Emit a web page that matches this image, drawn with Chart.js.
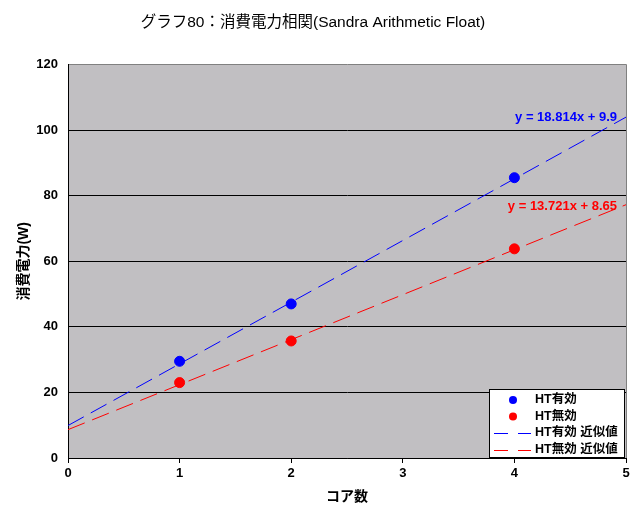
<!DOCTYPE html>
<html>
<head>
<meta charset="utf-8">
<script src="https://cdn.jsdelivr.net/npm/chart.js@4"></script>
<style>
  html, body { margin: 0; padding: 0; background: #fff; }
  #wrap { width: 633px; height: 518px; }
</style>
</head>
<body>
<div id="wrap"><canvas id="powerChart" width="633" height="518"></canvas></div>
<script>
// コア数
const cores = [1, 2, 4];
// 消費電力(W)
const htOn = [29.5, 47, 85.5];
const htOff = [23, 35.7, 63.8];
// 近似値 (両端 x=0, x=5)
const trendX = [0, 5];
const htOnTrend = [9.9, 103.97];
const htOffTrend = [8.65, 77.26];
const htOnEq = 'y = 18.814x + 9.9';
const htOffEq = 'y = 13.721x + 8.65';
const yTicks = [0, 20, 40, 60, 80, 100, 120];

const FONT = "'Liberation Sans', 'Noto Sans CJK JP', sans-serif";
const BLUE = '#0000FF';
const RED = '#FF0000';

function toPoints(xs, ys) {
  return xs.map((x, i) => ({ x: x, y: ys[i] }));
}

// プロットエリア背景と枠
const plotBg = {
  id: 'plotBg',
  beforeDraw(chart) {
    const { ctx, chartArea: a } = chart;
    ctx.save();
    ctx.fillStyle = '#C1BFC2';
    ctx.fillRect(a.left, a.top, a.right - a.left, a.bottom - a.top);
    ctx.strokeStyle = '#808080';
    ctx.lineWidth = 1;
    ctx.beginPath();
    ctx.moveTo(a.left, Math.round(a.top) - 0.5);
    ctx.lineTo(Math.round(a.right) + 0.5, Math.round(a.top) - 0.5);
    ctx.lineTo(Math.round(a.right) + 0.5, a.bottom);
    ctx.stroke();
    ctx.restore();
  }
};

// 近似式ラベルと凡例
const extras = {
  id: 'extras',
  afterDraw(chart) {
    const { ctx } = chart;
    const xs = chart.scales.x, ys = chart.scales.y;
    ctx.save();
    ctx.setLineDash([]);
    ctx.font = 'bold 13px ' + FONT;
    ctx.textAlign = 'right';
    ctx.textBaseline = 'middle';
    ctx.fillStyle = BLUE;
    ctx.fillText(htOnEq, xs.getPixelForValue(5) - 9, ys.getPixelForValue(103.8));
    ctx.fillStyle = RED;
    ctx.fillText(htOffEq, xs.getPixelForValue(5) - 9, ys.getPixelForValue(76.6));

    // legend box
    const bx = 489.5, by = 389.5, bw = 135, bh = 68;
    ctx.fillStyle = '#fff';
    ctx.fillRect(bx, by, bw, bh);
    ctx.strokeStyle = '#000';
    ctx.lineWidth = 1;
    ctx.strokeRect(bx, by, bw, bh);

    const items = chart.data.datasets;
    ctx.font = 'bold 12.5px ' + FONT;
    ctx.textAlign = 'left';
    items.forEach((ds, i) => {
      const y = 400 + i * 16.5;
      if (ds.showLine) {
        ctx.strokeStyle = ds.borderColor;
        ctx.beginPath();
        ctx.moveTo(494, Math.round(y) + 0.5);
        ctx.lineTo(508, Math.round(y) + 0.5);
        ctx.moveTo(518, Math.round(y) + 0.5);
        ctx.lineTo(531, Math.round(y) + 0.5);
        ctx.stroke();
      } else {
        ctx.fillStyle = ds.backgroundColor;
        ctx.beginPath();
        ctx.arc(513, y, 4, 0, Math.PI * 2);
        ctx.fill();
      }
      ctx.fillStyle = '#000';
      ctx.fillText(ds.label, 535, y);
    });
    ctx.restore();
  }
};

const ctx = document.getElementById('powerChart').getContext('2d');
const powerChart = new Chart(ctx, {
  type: 'scatter',
  data: {
    datasets: [
      {
        label: 'HT有効',
        data: toPoints(cores, htOn),
        backgroundColor: BLUE,
        borderColor: BLUE,
        pointRadius: 5,
        pointHoverRadius: 5,
        showLine: false,
      },
      {
        label: 'HT無効',
        data: toPoints(cores, htOff),
        backgroundColor: RED,
        borderColor: RED,
        pointRadius: 5,
        pointHoverRadius: 5,
        showLine: false,
      },
      {
        label: 'HT有効 近似値',
        data: toPoints(trendX, htOnTrend),
        borderColor: BLUE,
        backgroundColor: BLUE,
        borderWidth: 1,
        borderDash: [18, 8],
        pointRadius: 0,
        showLine: true,
      },
      {
        label: 'HT無効 近似値',
        data: toPoints(trendX, htOffTrend),
        borderColor: RED,
        backgroundColor: RED,
        borderWidth: 1,
        borderDash: [18, 8],
        pointRadius: 0,
        showLine: true,
      },
    ],
  },
  options: {
    responsive: false,
    animation: false,
    layout: { padding: { left: 0, right: 7, top: 0, bottom: 0 } },
    scales: {
      x: {
        type: 'linear',
        min: 0,
        max: 5,
        afterFit: (s) => { s.height = 60; },
        ticks: {
          stepSize: 1,
          color: '#000',
          padding: 3,
          font: { family: FONT, size: 13, weight: 'bold' },
        },
        grid: {
          drawOnChartArea: false,
          drawTicks: true,
          tickLength: 5,
          color: '#000',
        },
        border: { color: '#000', width: 1 },
        title: {
          display: true,
          text: 'コア数',
          color: '#000',
          padding: { top: 0, bottom: 12 },
          font: { family: FONT, size: 14, weight: 'bold' },
        },
      },
      y: {
        min: 0,
        max: 120,
        afterFit: (s) => { s.width = 68; },
        afterBuildTicks: (s) => { s.ticks = yTicks.map(v => ({ value: v })); },
        ticks: {
          color: '#000',
          padding: 10,
          font: { family: FONT, size: 13, weight: 'bold' },
        },
        grid: {
          drawTicks: false,
          color: (c) => (c.tick && c.tick.value === 120 ? 'rgba(0,0,0,0)' : '#000'),
        },
        border: { color: '#000', width: 1 },
        title: {
          display: true,
          text: '消費電力(W)',
          color: '#000',
          padding: { top: 16, bottom: 0 },
          font: { family: FONT, size: 14, weight: 'bold' },
        },
      },
    },
    plugins: {
      legend: { display: false },
      tooltip: { enabled: false },
      title: {
        display: true,
        text: 'グラフ80：消費電力相関(Sandra Arithmetic Float)',
        color: '#000',
        padding: { top: 13, bottom: 33 },
        font: { family: FONT, size: 15.5, weight: 'normal' },
      },
    },
  },
  plugins: [plotBg, extras],
});
</script>
</body>
</html>
